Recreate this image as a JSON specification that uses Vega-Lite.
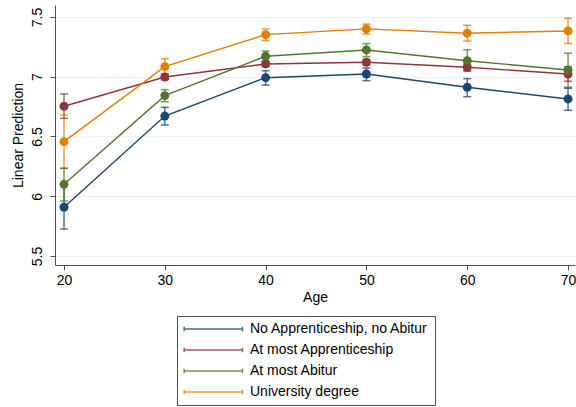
{
  "$schema": "https://vega.github.io/schema/vega-lite/v6.json",
  "width": 520,
  "height": 260,
  "autosize": {"type": "none"},
  "padding": {"left": 55, "top": 5, "right": 1, "bottom": 142},
  "background": "white",
  "config": {
    "view": {"stroke": null},
    "font": "Liberation Sans",
    "axis": {
      "domainColor": "#4d4d4d",
      "tickColor": "#4d4d4d",
      "tickSize": 5,
      "labelFontSize": 14,
      "labelColor": "#000000",
      "titleFontSize": 14,
      "titleFontWeight": "normal",
      "titleColor": "#000000",
      "labelFont": "Liberation Sans",
      "titleFont": "Liberation Sans"
    }
  },
  "data": {
    "values": [
      {"age": 20, "group": "No Apprenticeship, no Abitur", "pred": 5.908, "lo": 5.726, "hi": 6.09},
      {"age": 30, "group": "No Apprenticeship, no Abitur", "pred": 6.671, "lo": 6.596, "hi": 6.744},
      {"age": 40, "group": "No Apprenticeship, no Abitur", "pred": 6.992, "lo": 6.93, "hi": 7.05},
      {"age": 50, "group": "No Apprenticeship, no Abitur", "pred": 7.023, "lo": 6.967, "hi": 7.073},
      {"age": 60, "group": "No Apprenticeship, no Abitur", "pred": 6.912, "lo": 6.833, "hi": 6.984},
      {"age": 70, "group": "No Apprenticeship, no Abitur", "pred": 6.814, "lo": 6.719, "hi": 6.903},
      {"age": 20, "group": "At most Apprenticeship", "pred": 6.753, "lo": 6.652, "hi": 6.856},
      {"age": 30, "group": "At most Apprenticeship", "pred": 6.998, "lo": 6.975, "hi": 7.022},
      {"age": 40, "group": "At most Apprenticeship", "pred": 7.107, "lo": 7.085, "hi": 7.13},
      {"age": 50, "group": "At most Apprenticeship", "pred": 7.121, "lo": 7.098, "hi": 7.144},
      {"age": 60, "group": "At most Apprenticeship", "pred": 7.079, "lo": 7.052, "hi": 7.106},
      {"age": 70, "group": "At most Apprenticeship", "pred": 7.023, "lo": 6.962, "hi": 7.084},
      {"age": 20, "group": "At most Abitur", "pred": 6.1, "lo": 5.96, "hi": 6.234},
      {"age": 30, "group": "At most Abitur", "pred": 6.842, "lo": 6.791, "hi": 6.892},
      {"age": 40, "group": "At most Abitur", "pred": 7.171, "lo": 7.126, "hi": 7.215},
      {"age": 50, "group": "At most Abitur", "pred": 7.224, "lo": 7.168, "hi": 7.277},
      {"age": 60, "group": "At most Abitur", "pred": 7.134, "lo": 7.046, "hi": 7.226},
      {"age": 70, "group": "At most Abitur", "pred": 7.056, "lo": 6.912, "hi": 7.196},
      {"age": 20, "group": "University degree", "pred": 6.457, "lo": 6.234, "hi": 6.68},
      {"age": 30, "group": "University degree", "pred": 7.084, "lo": 7.023, "hi": 7.151},
      {"age": 40, "group": "University degree", "pred": 7.352, "lo": 7.302, "hi": 7.4},
      {"age": 50, "group": "University degree", "pred": 7.4, "lo": 7.358, "hi": 7.44},
      {"age": 60, "group": "University degree", "pred": 7.364, "lo": 7.299, "hi": 7.43},
      {"age": 70, "group": "University degree", "pred": 7.383, "lo": 7.277, "hi": 7.489}
    ]
  },
  "layer": [
    {
      "mark": {"type": "rule", "strokeWidth": 1.5, "strokeOpacity": 0.75},
      "encoding": {
        "x": {"field": "age", "type": "quantitative", "scale": {"domain": [19.107, 70.69], "nice": false, "zero": false},
          "axis": {"title": "Age", "values": [20, 30, 40, 50, 60, 70], "grid": false, "labelPadding": 3, "titlePadding": 3}},
        "y": {"field": "lo", "type": "quantitative", "scale": {"domain": [5.425, 7.6], "nice": false, "zero": false},
          "axis": {"title": "Linear Prediction", "values": [5.5, 6, 6.5, 7, 7.5], "format": "~f", "labelAngle": -90, "labelAlign": "center", "labelBaseline": "bottom", "grid": true, "gridColor": "#eaf2f3", "gridWidth": 1, "labelPadding": 6, "titlePadding": 5}},
        "y2": {"field": "hi"},
        "stroke": {"field": "group", "type": "nominal", "legend": null,
          "scale": {"domain": ["At most Abitur", "University degree", "No Apprenticeship, no Abitur", "At most Apprenticeship"], "range": ["#55752f", "#e37e00", "#1a476f", "#90353b"]}}
      }
    },
    {
      "mark": {"type": "tick", "orient": "horizontal", "size": 8, "thickness": 1.5, "opacity": 0.75},
      "encoding": {
        "x": {"field": "age", "type": "quantitative"},
        "y": {"field": "lo", "type": "quantitative"},
        "fill": {"field": "group", "type": "nominal", "legend": null,
          "scale": {"domain": ["University degree", "At most Abitur", "At most Apprenticeship", "No Apprenticeship, no Abitur"], "range": ["#e37e00", "#55752f", "#90353b", "#1a476f"]}}
      }
    },
    {
      "mark": {"type": "tick", "orient": "horizontal", "size": 8, "thickness": 1.5, "opacity": 0.75},
      "encoding": {
        "x": {"field": "age", "type": "quantitative"},
        "y": {"field": "hi", "type": "quantitative"},
        "fill": {"field": "group", "type": "nominal", "legend": null}
      }
    },
    {
      "mark": {"type": "line", "strokeWidth": 1.4},
      "encoding": {
        "x": {"field": "age", "type": "quantitative"},
        "y": {"field": "pred", "type": "quantitative"},
        "color": {"field": "group", "type": "nominal",
          "scale": {"domain": ["No Apprenticeship, no Abitur", "At most Apprenticeship", "At most Abitur", "University degree"], "range": ["#1a476f", "#90353b", "#55752f", "#e37e00"]},
          "legend": {
            "title": null,
            "orient": "none",
            "legendX": 122,
            "legendY": 311,
            "direction": "vertical",
            "symbolType": "M-1,0L9,0M-1,-0.4L-1,0.4M9,-0.4L9,0.4",
            "symbolSize": 136,
            "symbolStrokeWidth": 1.5,
            "symbolOpacity": 0.8,
            "labelOffset": 53,
            "labelFontSize": 14,
            "labelFont": "Liberation Sans",
            "labelColor": "#000000",
            "labelLimit": 400,
            "rowPadding": 7,
            "strokeColor": "#4d4d4d",
            "padding": 6
          }}
      }
    },
    {
      "mark": {"type": "point", "shape": "circle", "filled": true, "size": 80, "opacity": 1},
      "encoding": {
        "x": {"field": "age", "type": "quantitative"},
        "y": {"field": "pred", "type": "quantitative"},
        "fill": {"field": "group", "type": "nominal", "legend": null}
      }
    }
  ]
}
